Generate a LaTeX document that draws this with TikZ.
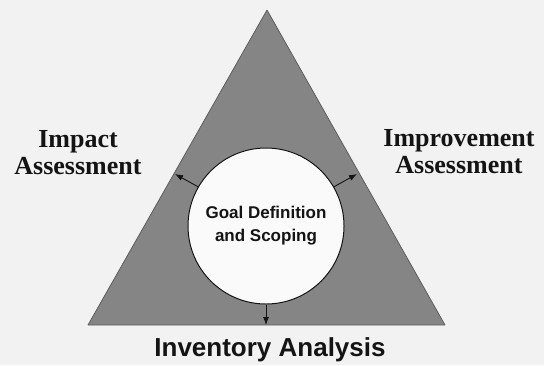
\documentclass[tikz,border=0pt]{standalone}
\usepackage{fontspec}
\setmainfont{Liberation Serif}
\setsansfont{Liberation Sans}
\usepackage{tikz}
\usetikzlibrary{arrows.meta,shapes}

\definecolor{paper}{rgb}{0.95,0.95,0.95}
\definecolor{wedge}{rgb}{0.52,0.52,0.52}
\definecolor{ink}{rgb}{0.08,0.08,0.08}

\tikzset{
  stagelabel/.style={align=center,text=ink,font=\rmfamily\bfseries\fontsize{26bp}{27bp}\selectfont},
  basename/.style={text=ink,font=\sffamily\bfseries\fontsize{26bp}{28bp}\selectfont},
  hub/.style={circle,draw=ink,line width=1bp,fill=white!98!black,minimum size=156bp,inner sep=0pt,
    align=center,text=ink,font=\sffamily\bfseries\fontsize{17bp}{23bp}\selectfont},
  flow/.style={->,draw=ink,line width=0.9bp},
}

\begin{document}
\begin{tikzpicture}[>={Latex[length=8bp,width=6bp]},line join=bevel,x=1bp,y=-1bp]
  \useasboundingbox (0,0) rectangle (544,365);
  \fill[paper] (0,0) rectangle (544,365);
%%
% Shape: triangle
\begin{scope}
  \coordinate (apex) at (267,10);
  \coordinate (leftfoot) at (88,325);
  \coordinate (rightfoot) at (445,325);
  \draw[fill=wedge,draw=wedge!70!black,line width=0.8bp] (apex) -- (rightfoot) -- (leftfoot) -- cycle;
\end{scope}
  % Node: goal
  \node[hub] (goal) at (266,226) {Goal Definition\\and Scoping};
  % Sides where the arrows land
  \coordinate (impactside) at (175,174);
  \coordinate (improveside) at (357,174);
  \coordinate (inventoryside) at (266,325);
  % Edge: goal -> impact
  \draw[flow] (goal.150) -- (impactside);
  % Edge: goal -> improvement
  \draw[flow] (goal.30) -- (improveside);
  % Edge: goal -> inventory
  \draw[flow] (goal.270) -- (inventoryside);
  % Labels
  \node[stagelabel] (impact) at (78,153) {Impact\\Assessment};
  \node[stagelabel] (improve) at (459,152) {Improvement\\Assessment};
  \node[basename,anchor=base] (inventory) at (270,356) {Inventory Analysis};
%
\end{tikzpicture}
\end{document}
